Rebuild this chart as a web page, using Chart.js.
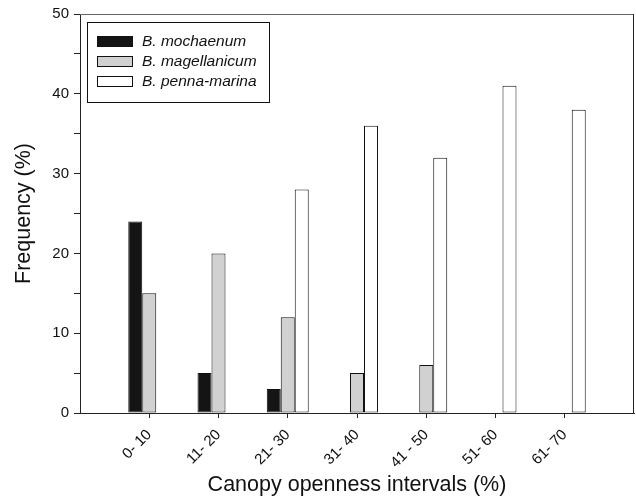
<!DOCTYPE html>
<html>
<head>
<meta charset="utf-8">
<script src="https://cdn.jsdelivr.net/npm/chart.js@4/dist/chart.umd.min.js"></script>
<style>
  html, body { margin: 0; padding: 0; background: #fff; }
  #wrap { width: 636px; height: 499px; position: relative; }
</style>
</head>
<body>
<div id="wrap"><canvas id="c"></canvas></div>
<script>
const categories = ['0- 10', '11- 20', '21- 30', '31- 40', '41 - 50', '51- 60', '61- 70'];
const seriesNames = ['B. mochaenum', 'B. magellanicum', 'B. penna-marina'];
const mochaenum = [24, 5, 3, 0, 0, 0, 0];
const magellanicum = [15, 20, 12, 5, 6, 0, 0];
const pennaMarina = [0, 0, 28, 36, 32, 41, 38];
const yTicks = [0, 10, 20, 30, 40, 50];

const FONT = "'Liberation Sans', Arial, Helvetica, sans-serif";
const fills = ['#141414', '#d0d1d0', '#ffffff'];

// pad with empty slots on both ends so the axis spans 0..8 like the original
const labels = [''].concat(categories, ['']);
const pad = arr => [null].concat(arr, [null]);

const frame = {
  id: 'frame',
  afterDatasetsDraw(chart) {
    const {ctx, chartArea: a} = chart;
    ctx.save();
    ctx.lineWidth = 1;
    ctx.strokeStyle = '#666';
    ctx.beginPath();
    ctx.moveTo(a.left, a.top + 0.5);
    ctx.lineTo(a.right, a.top + 0.5);
    ctx.stroke();
    ctx.strokeStyle = '#222';
    ctx.beginPath();
    ctx.moveTo(a.right - 0.5, a.top);
    ctx.lineTo(a.right - 0.5, a.bottom);
    ctx.stroke();
    ctx.restore();
  }
};

const innerLegend = {
  id: 'innerLegend',
  afterDraw(chart) {
    const {ctx} = chart;
    ctx.save();
    ctx.lineWidth = 1;
    ctx.strokeStyle = '#111';
    ctx.strokeRect(87.5, 22.5, 182, 80);
    chart.data.datasets.forEach((ds, i) => {
      const y = 36 + i * 20;
      ctx.fillStyle = ds.backgroundColor;
      ctx.fillRect(97, y, 36, 11);
      ctx.strokeStyle = '#111';
      ctx.strokeRect(97.5, y + 0.5, 35, 10);
      ctx.fillStyle = '#111';
      ctx.font = 'italic 15.5px ' + FONT;
      ctx.textBaseline = 'middle';
      ctx.textAlign = 'left';
      ctx.fillText(ds.label, 142, y + 6);
    });
    ctx.restore();
  }
};

const mk = (name, data, fill) => ({
  label: name,
  data: pad(data),
  backgroundColor: fill,
  borderColor: '#111',
  borderWidth: 1,
  borderSkipped: false,
  barPercentage: 1.0,
  categoryPercentage: 0.606
});

new Chart(document.getElementById('c'), {
  type: 'bar',
  data: {
    labels: labels,
    datasets: [
      mk(seriesNames[0], mochaenum, fills[0]),
      mk(seriesNames[1], magellanicum, fills[1]),
      mk(seriesNames[2], pennaMarina, fills[2])
    ]
  },
  options: {
    responsive: true,
    maintainAspectRatio: false,
    animation: false,
    layout: { padding: { top: 14, right: 2, left: 0, bottom: 0 } },
    plugins: { legend: { display: false }, tooltip: { enabled: false } },
    scales: {
      x: {
        offset: false,
        afterFit: s => { s.height = 86; s.paddingLeft = 0; s.paddingRight = 0; },
        grid: {
          display: true,
          offset: false,
          drawOnChartArea: false,
          drawTicks: true,
          tickLength: 5,
          tickColor: c => (c.index === 0 || c.index === labels.length - 1) ? 'rgba(0,0,0,0)' : '#222'
        },
        border: { display: true, color: '#222', width: 1 },
        ticks: {
          autoSkip: false,
          minRotation: 45,
          maxRotation: 45,
          padding: 8,
          color: '#111',
          font: { family: FONT, size: 15 }
        },
        title: {
          display: true,
          text: 'Canopy openness intervals (%)',
          color: '#111',
          font: { family: FONT, size: 21.5 },
          padding: { top: 0, bottom: 1 }
        }
      },
      y: {
        min: yTicks[0],
        max: yTicks[yTicks.length - 1],
        afterFit: s => { s.width = 80; },
        grid: {
          display: true,
          drawOnChartArea: false,
          drawTicks: true,
          tickLength: 6,
          tickColor: '#222'
        },
        border: { display: true, color: '#222', width: 1 },
        ticks: {
          stepSize: 5,
          padding: 5,
          color: '#111',
          font: { family: FONT, size: 15 },
          callback: v => yTicks.includes(v) ? String(v) : ''
        },
        title: {
          display: true,
          text: 'Frequency (%)',
          color: '#111',
          font: { family: FONT, size: 21.5 },
          padding: { top: 11, bottom: 0 }
        }
      }
    }
  },
  plugins: [frame, innerLegend]
});
</script>
</body>
</html>
